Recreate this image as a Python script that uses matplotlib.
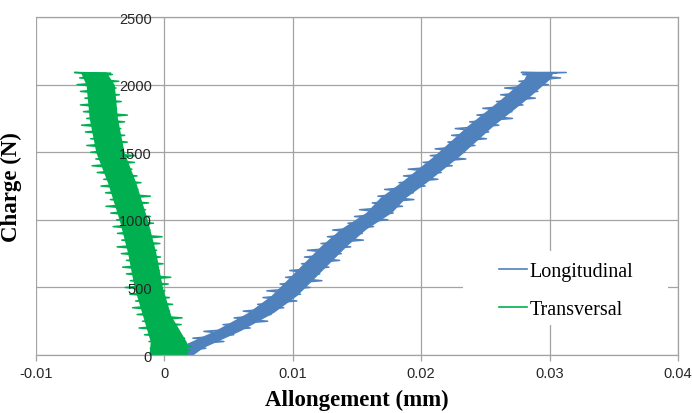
import matplotlib
matplotlib.use('Agg')
import matplotlib.pyplot as plt
from matplotlib.patches import Rectangle

# Load (N) and elongation (mm) (noisy trace)
long_load = [0, 25, 50, 75, 100, 125, 150, 175, 200, 225, 250, 275, 300, 325, 350, 375,
             400, 425, 450, 475, 500, 525, 550, 575, 600, 625, 650, 675, 700, 725, 750, 775,
             800, 825, 850, 875, 900, 925, 950, 975, 1000, 1025, 1050, 1075, 1100, 1125, 1150,
             1175, 1200, 1225, 1250, 1275, 1300, 1325, 1350, 1375, 1400, 1425, 1450, 1475, 1500,
             1525, 1550, 1575, 1600, 1625, 1650, 1675, 1700, 1725, 1750, 1775, 1800, 1825, 1850,
             1875, 1900, 1925, 1950, 1975, 2000, 2025, 2050, 2075, 2090, 2090, 2085]
long_x = [0.0015, 0.0010, 0.00323, 0.00136, 0.00464, 0.00222, 0.0054, 0.00308, 0.00669,
          0.00457, 0.00805, 0.00543, 0.00831, 0.00614, 0.0093, 0.00726, 0.01032, 0.00768,
          0.01061, 0.00798, 0.01134, 0.00901, 0.01227, 0.00944, 0.0121, 0.00976, 0.01282,
          0.01068, 0.01365, 0.01091, 0.01378, 0.01114, 0.01451, 0.0122, 0.0155, 0.0127,
          0.01541, 0.01311, 0.01629, 0.0143, 0.01741, 0.01481, 0.01782, 0.0152, 0.01855,
          0.01619, 0.01944, 0.01663, 0.01939, 0.01715, 0.02031, 0.01827, 0.0213, 0.01863,
          0.02156, 0.01899, 0.02242, 0.02015, 0.02348, 0.02071, 0.0234, 0.02109, 0.02419,
          0.02208, 0.02508, 0.02237, 0.02526, 0.02265, 0.02605, 0.02378, 0.02711, 0.02434,
          0.02707, 0.0248, 0.02793, 0.02586, 0.02889, 0.02619, 0.02909, 0.0265, 0.0299,
          0.02761, 0.03086, 0.02791, 0.0313, 0.0278, 0.0305]

trans_load = [0, 12, 25, 37, 50, 62, 75, 87, 100, 112, 125, 150, 175, 200, 225, 250, 275,
              300, 325, 350, 375, 400, 425, 450, 475, 500, 525, 550, 575, 600, 625, 650, 675,
              700, 725, 750, 775, 800, 825, 850, 875, 900, 925, 950, 975, 1000, 1025, 1050,
              1075, 1100, 1125, 1150, 1175, 1200, 1225, 1250, 1275, 1300, 1325, 1350, 1375,
              1400, 1425, 1450, 1475, 1500, 1525, 1550, 1575, 1600, 1625, 1650, 1675, 1700,
              1725, 1750, 1775, 1800, 1825, 1850, 1875, 1900, 1925, 1950, 1975, 2000, 2025,
              2050, 2075, 2090, 2085]
trans_x = [0.0, 0.0018, -0.001, 0.002, -0.0011, 0.0021, -0.0008, 0.0017, -0.0012, 0.0014,
           0.00157, -0.00155, 0.00114, -0.00197, 0.00131, -0.0017, 0.00138, -0.00212, 0.0004,
           -0.00248, 0.00064, -0.00224, 0.00039, -0.00269, 0.00003, -0.00305, 0.0003, -0.00265,
           0.0005, -0.00295, -0.0004, -0.00325, -0.0001, -0.00295, -0.0003, -0.00335, -0.00061,
           -0.00368, -0.00035, -0.00332, -0.00018, -0.00365, -0.00112, -0.00399, -0.00085,
           -0.00372, -0.0011, -0.00418, -0.00147, -0.00455, -0.00123, -0.00421, -0.00109,
           -0.00458, -0.00206, -0.00494, -0.00182, -0.00472, -0.00213, -0.00523, -0.00253,
           -0.00563, -0.00233, -0.00534, -0.00224, -0.00574, -0.00319, -0.00604, -0.00289,
           -0.00574, -0.00309, -0.00615, -0.0034, -0.00645, -0.0031, -0.00605, -0.00288,
           -0.0063, -0.00372, -0.00654, -0.00336, -0.00619, -0.00351, -0.00654, -0.00377,
           -0.0068, -0.00355, -0.0066, -0.00405, -0.0070, -0.0042]

# dense core of each noisy band (left / right edge at given loads)
long_band_load = [0, 55, 180, 315, 440, 562, 686, 809, 932, 1055, 1166, 1277, 1474, 1696,
                  1893, 2041, 2095]
long_band_left = [0.0002, 0.0010, 0.0039, 0.0065, 0.0083, 0.0096, 0.0109, 0.0122, 0.0137,
                  0.0157, 0.0168, 0.0184, 0.0210, 0.0236, 0.0262, 0.0280, 0.0283]
long_band_right = [0.0022, 0.0030, 0.0059, 0.0085, 0.0103, 0.0116, 0.0129, 0.0142, 0.0157,
                   0.0177, 0.0188, 0.0204, 0.0230, 0.0256, 0.0282, 0.0300, 0.0303]

trans_band_load = [0, 100, 293, 500, 759, 1000, 1277, 1500, 1755, 2000, 2095]
trans_band_left = [-0.0012, -0.0011, -0.0017, -0.00235, -0.00287, -0.00352, -0.00443,
                   -0.00534, -0.00586, -0.0061, -0.00655]
trans_band_right = [0.0018, 0.0017, 0.0005, -0.00015, -0.00067, -0.00132, -0.00223,
                    -0.00314, -0.00366, -0.0039, -0.00455]

xticks = [-0.01, 0, 0.01, 0.02, 0.03, 0.04]
xtick_labels = ['-0.01', '0', '0.01', '0.02', '0.03', '0.04']
yticks = [0, 500, 1000, 1500, 2000, 2500]

blue = '#4F81BD'
green = '#00B050'
grid_c = '#A3A3A3'

fig = plt.figure(figsize=(6.92, 4.14), dpi=100)
ax = fig.add_axes([0.052, 0.140, 0.9277, 0.8164])
ax.set_axisbelow(False)  # tick labels sit on top of the data, as in Excel

for t in xticks:
    ax.axvline(t, color=grid_c, lw=0.9, zorder=0)
for t in yticks:
    ax.axhline(t, color=grid_c, lw=0.9, zorder=0)

ax.fill_betweenx(long_band_load, long_band_left, long_band_right, color=blue, lw=0, zorder=2)
ax.plot(long_x, long_load, color=blue, lw=1.1, label='Longitudinal', zorder=2)
ax.fill_betweenx(trans_band_load, trans_band_left, trans_band_right, color=green, lw=0, zorder=2)
ax.plot(trans_x, trans_load, color=green, lw=1.1, label='Transversal', zorder=2)

ax.set_xlim(-0.01, 0.04)
ax.set_ylim(0, 2500)
ax.set_xticks(xticks)
ax.set_xticklabels(xtick_labels)
ax.set_yticks(yticks)

ax.spines['left'].set_position(('data', 0))
ax.spines['left'].set_visible(False)
for s in ['top', 'right', 'bottom']:
    ax.spines[s].set_color(grid_c)
    ax.spines[s].set_linewidth(0.9)

tick_family = ['Liberation Sans Narrow', 'Liberation Sans']
ax.tick_params(axis='y', length=0, pad=9, labelcolor='#262626')
ax.tick_params(axis='x', length=4, width=0.9, color=grid_c, pad=4, labelcolor='#262626')
for lab in ax.get_xticklabels() + ax.get_yticklabels():
    lab.set_fontfamily(tick_family)
    lab.set_fontsize(10.5)

ax.set_xlabel('Allongement (mm)', fontfamily='Liberation Serif', fontweight='bold',
              fontsize=16.5, labelpad=6)
ax.set_ylabel('Charge (N)', fontfamily='Liberation Serif', fontweight='bold',
              fontsize=16.5)
ax.yaxis.set_label_coords(-0.022, 0.5, transform=ax.transAxes)

ax.add_patch(Rectangle((0.665, 0.089), 0.319, 0.219, transform=ax.transAxes,
                       facecolor='white', edgecolor='none', zorder=1))
leg = ax.legend(loc='center left', bbox_to_anchor=(0.706, 0.192), frameon=False,
                prop={'family': 'Liberation Serif', 'size': 14.5},
                handlelength=1.4, handletextpad=0.1, labelspacing=0.95, borderpad=0)
for h in leg.get_lines():
    h.set_linewidth(1.2)

fig.savefig('out.png', dpi=100)
